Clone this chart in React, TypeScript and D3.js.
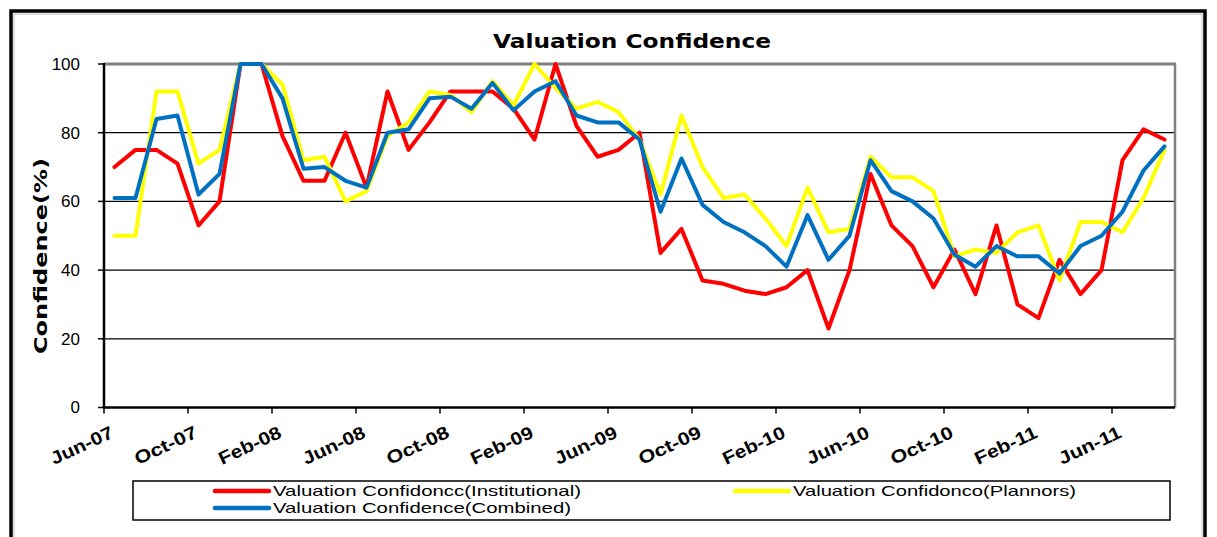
import React from "react";
import * as d3 from "d3";

const categories = [
  "Jun-07","Jul-07","Aug-07","Sep-07","Oct-07","Nov-07","Dec-07","Jan-08","Feb-08","Mar-08",
  "Apr-08","May-08","Jun-08","Jul-08","Aug-08","Sep-08","Oct-08","Nov-08","Dec-08","Jan-09",
  "Feb-09","Mar-09","Apr-09","May-09","Jun-09","Jul-09","Aug-09","Sep-09","Oct-09","Nov-09",
  "Dec-09","Jan-10","Feb-10","Mar-10","Apr-10","May-10","Jun-10","Jul-10","Aug-10","Sep-10",
  "Oct-10","Nov-10","Dec-10","Jan-11","Feb-11","Mar-11","Apr-11","May-11","Jun-11","Jul-11","Aug-11",
];

const tickLabels = ["Jun-07","Oct-07","Feb-08","Jun-08","Oct-08","Feb-09","Jun-09","Oct-09","Feb-10","Jun-10","Oct-10","Feb-11","Jun-11"];

const yTicks = [0, 20, 40, 60, 80, 100];

const institutional = [
  70,75,75,71,53,60,100,100,79,66,
  66,80,64,92,75,83,92,92,92,87,
  78,100,82,73,75,80,45,52,37,36,
  34,33,35,40,23,40,68,53,47,35,
  46,33,53,30,26,43,33,40,72,81,78,
];

const planners = [
  50,50,92,92,71,75,100,100,94,72,
  73,60,63,79,83,92,91,86,95,88,
  100,93,87,89,86,78,62,85,70,61,
  62,55,47,64,51,52,73,67,67,63,
  44,46,45,51,53,37,54,54,51,61,75,
];

const combined = [
  61,61,84,85,62,68,100,100,90,69.5,
  70,66,64,80,81,90,90.5,87,94.5,86.5,
  92,95,85,83,83,78,57,72.5,59,54,
  51,47,41,56,43,50,72,63,60,55,
  44.5,41,47,44,44,39,47,50,57,69,76,
];

const seriesNames = [
  "Valuation Confidoncc(Institutional)",
  "Valuation Confidonco(Plannors)",
  "Valuation Confidence(Combined)",
];
const seriesColors = ["#FF0000", "#FFFF00", "#0070C0"];

export default function App() {
  const W = 1217, H = 537;
  const left = 104, right = 1175, top = 64, bottom = 407.5;
  const x = d3.scaleBand<string>().domain(categories).range([left, right]).paddingInner(0).paddingOuter(0);
  const y = d3.scaleLinear().domain([0, 100]).range([bottom, top]);
  const bw = x.bandwidth();
  const line = d3.line<number>()
    .x((_, i) => (x(categories[i]) as number) + bw / 2)
    .y((v) => y(v));
  const allSeries = [institutional, planners, combined];

  return (
    <svg width={W} height={H} style={{ position: "absolute", left: 0, top: 0, background: "#fff" }}
      fontFamily="'Liberation Sans', Arial, sans-serif">
      <rect x={0} y={0} width={W} height={H} fill="#fff" />
      {/* outer frame */}
      <rect x={11} y={11} width={1194} height={560} fill="none" stroke="#000" strokeWidth={3.5} />
      <rect x={14} y={14} width={1188} height={560} fill="none" stroke="#bbb" strokeWidth={1} />

      {/* title */}
      <text x={632} y={48} textAnchor="middle" fontFamily="'DejaVu Sans', Verdana, sans-serif"
        fontWeight="bold" fontSize={19} textLength={278} lengthAdjust="spacingAndGlyphs">Valuation Confidence</text>

      {/* gridlines */}
      {yTicks.filter((t) => t > 0 && t < 100).map((t) => (
        <line key={t} x1={left} x2={right} y1={y(t)} y2={y(t)} stroke="#000" strokeWidth={1.3} />
      ))}
      {/* plot border top/right */}
      <line x1={left} x2={right + 1} y1={y(100)} y2={y(100)} stroke="#808080" strokeWidth={3} />
      <line x1={right} x2={right} y1={y(100)} y2={bottom} stroke="#808080" strokeWidth={2.5} />

      {/* y axis */}
      <line x1={left} x2={left} y1={top - 1} y2={bottom + 1} stroke="#000" strokeWidth={2.5} />
      {yTicks.map((t) => (
        <g key={t}>
          <line x1={left - 6} x2={left} y1={y(t)} y2={y(t)} stroke="#000" strokeWidth={1.5} />
          <text x={80} y={y(t)} dy="0.35em" textAnchor="end" fontSize={17}>{t}</text>
        </g>
      ))}
      <text transform={`translate(47, 256) rotate(-90)`} textAnchor="middle"
        fontFamily="'DejaVu Sans', Verdana, sans-serif" fontWeight="bold" fontSize={18}
        textLength={196} lengthAdjust="spacingAndGlyphs">Confidence(%)</text>

      {/* x axis */}
      <line x1={left} x2={right} y1={bottom} y2={bottom} stroke="#000" strokeWidth={2.5} />
      {tickLabels.map((lab) => {
        const tx = x(lab) as number;
        return (
          <g key={lab}>
            <line x1={tx} x2={tx} y1={bottom} y2={bottom + 6} stroke="#000" strokeWidth={1.5} />
            <text transform={`translate(${tx + 5}, ${bottom + 17}) rotate(-25)`} textAnchor="end" dy="0.75em"
              fontWeight="bold" fontSize={18} textLength={67} lengthAdjust="spacingAndGlyphs">{lab}</text>
          </g>
        );
      })}

      {/* series */}
      {allSeries.map((s, k) => (
        <path key={k} d={line(s) as string} fill="none" stroke={seriesColors[k]} strokeWidth={4}
          strokeLinejoin="round" strokeLinecap="round" />
      ))}

      {/* legend */}
      <rect x={133} y={481} width={1037} height={39} fill="#fff" stroke="#000" strokeWidth={1.5} />
      {[
        { k: 0, lx: 215, ly: 491 },
        { k: 1, lx: 735, ly: 491 },
        { k: 2, lx: 215, ly: 508 },
      ].map(({ k, lx, ly }) => (
        <g key={k}>
          <line x1={lx} x2={lx + 54} y1={ly} y2={ly} stroke={seriesColors[k]} strokeWidth={4.5} strokeLinecap="round" />
          <text x={lx + 58} y={ly} dy="0.36em" fontSize={15}
            textLength={k === 0 ? 308 : k === 1 ? 283 : 298} lengthAdjust="spacingAndGlyphs">{seriesNames[k]}</text>
        </g>
      ))}
    </svg>
  );
}
